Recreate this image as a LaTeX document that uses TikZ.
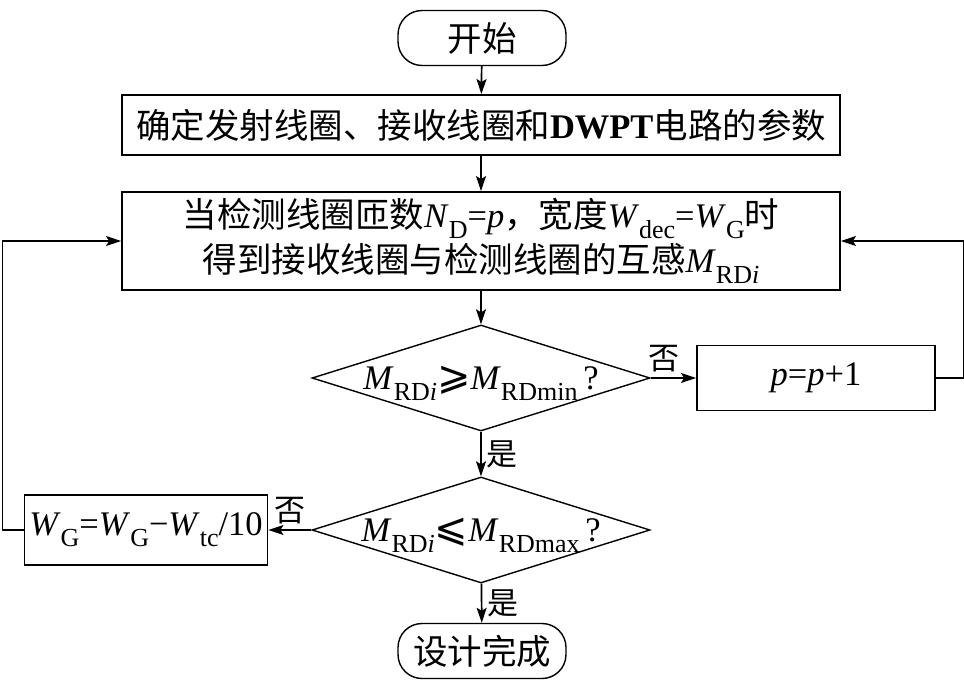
\documentclass[tikz,border=0pt]{standalone}
\usepackage{fontspec}
\setmainfont{Liberation Serif}
\newfontfamily\cjk{Noto Sans CJK SC}
\newfontfamily\symfont{DejaVu Sans}
\usetikzlibrary{arrows.meta, positioning, shapes.geometric}
\newcommand{\zh}[1]{{\cjk #1}}
\newcommand{\var}[1]{\textit{#1}}
\newcommand{\sbs}[1]{\raisebox{-0.32em}{\fontsize{26}{26}\selectfont #1}}
\newcommand{\rel}[1]{{\fontsize{40}{40}\selectfont\symfont #1}}
\newcommand{\flatText}[1]{\makebox[0pt]{\raisebox{-0.33em}[0pt][0pt]{#1}}}
\tikzset{
  arrowK/.style={-{Stealth[length=15pt, width=10pt, inset=3pt]}, black, line width=1.7pt},
  boxStep/.style={rectangle, draw, line width=1.9pt, align=center, inner sep=0pt},
  boxTerm/.style={rectangle, rounded corners=24pt, draw, line width=1.4pt,
                  minimum width=168pt, minimum height=55pt, inner sep=0pt},
  boxDecide/.style={diamond, draw, line width=1.4pt, inner sep=0pt,
                    minimum width=338pt, minimum height=106pt},
  labelZh/.style={font=\fontsize{31}{31}\selectfont\cjk, inner sep=5pt},
}

\begin{document}
\begin{tikzpicture}[x=1pt, y=-1pt, font=\fontsize{34.5}{45}\selectfont]
    \useasboundingbox (0,0) rectangle (964,685);
    % main column
    \node[boxTerm] (start) at (482,38) {\zh{开始}};
    \node[boxStep, minimum width=718pt, minimum height=60pt] (setup) at (481,125)
          {\zh{确定发射线圈、接收线圈和}\textbf{DWPT}\zh{电路的参数}};
    \node[boxStep, minimum width=718pt, minimum height=98pt] (mutual) at (481,241)
          {\zh{当检测线圈匝数}\var{N}\sbs{D}=\var{p}\zh{，宽度}\var{W}\sbs{dec}=\var{W}\sbs{G}\zh{时}\\
           \zh{得到接收线圈与检测线圈的互感}\var{M}\sbs{RD\var{i}}};
    \node[boxDecide] (chkMin) at (481,378)
          {\flatText{\var{M}\sbs{RD\var{i}}\rel{⩾}\var{M}\sbs{RDmin}\,?}};
    \node[boxDecide] (chkMax) at (481,530)
          {\flatText{\var{M}\sbs{RD\var{i}}\rel{⩽}\var{M}\sbs{RDmax}\,?}};
    \node[boxTerm] (finish) at (482,651) {\zh{设计完成}};
    % side boxes
    \node[boxStep, minimum width=238pt, minimum height=65pt] (incP) at (816,378)
          {\var{p}=\var{p}+1};
    \node[boxStep, minimum width=243pt, minimum height=70pt] (shrinkW) at (146,530)
          {\var{W}\sbs{G}=\var{W}\sbs{G}−\var{W}\sbs{tc}/10};
    % connectors
    \draw[arrowK] (start) -- (setup);
    \draw[arrowK] (setup) -- (mutual);
    \draw[arrowK] (mutual) -- (chkMin);
    \draw[arrowK] (chkMin) -- node[labelZh, right] {是} (chkMax);
    \draw[arrowK] (chkMax) -- node[labelZh, right] {是} (finish);
    \draw[arrowK] (chkMin.east) -- node[labelZh, pos=0.3, above] {否} (incP.west);
    \draw[arrowK] (chkMax.west) -- node[labelZh, above] {否} (shrinkW.east);
    \draw[arrowK] (incP.east) -- ++(28,0) |- (mutual.east);
    \draw[arrowK] (shrinkW.west) -- ++(-21,0) |- (mutual.west);
  \end{tikzpicture}
\end{document}
